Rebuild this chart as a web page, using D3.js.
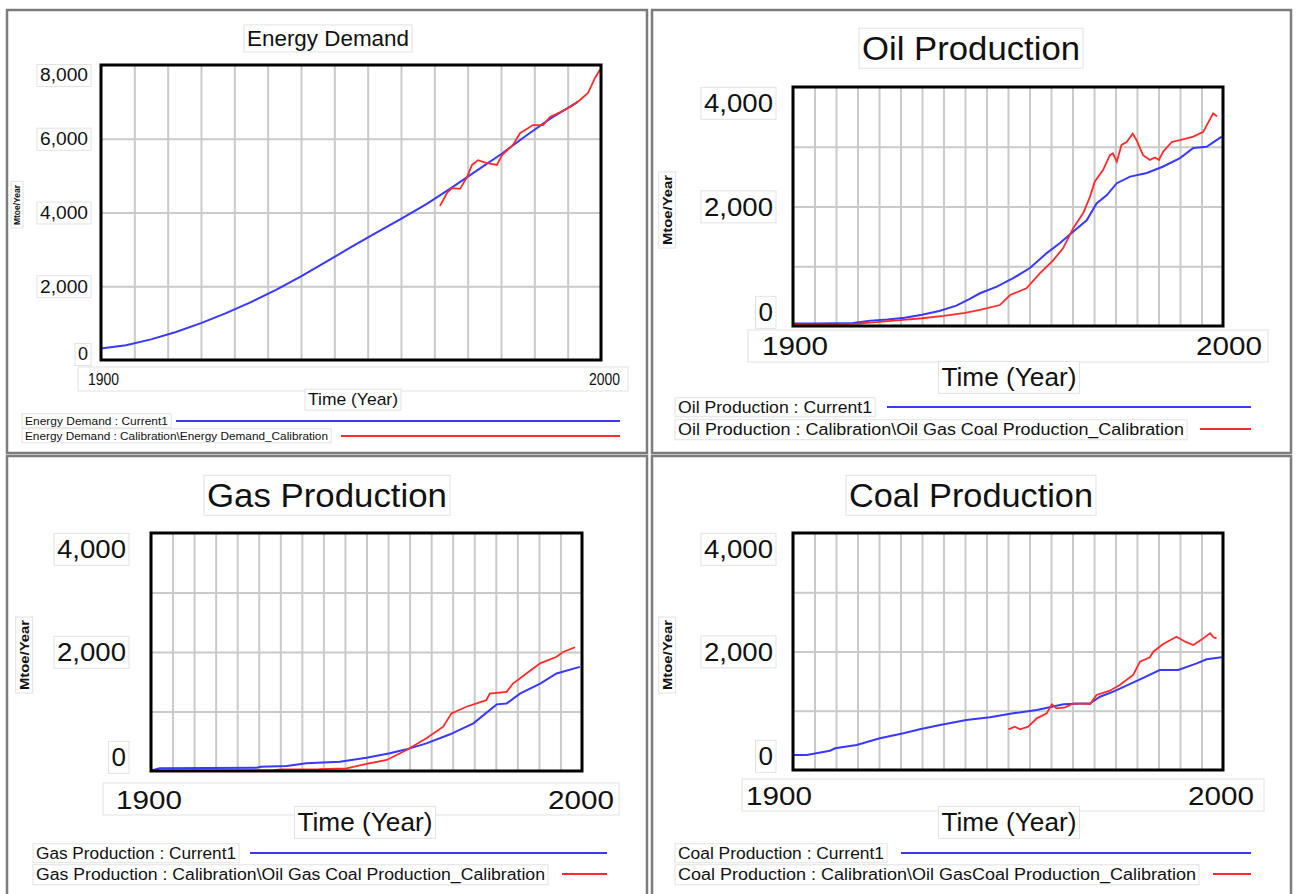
<!DOCTYPE html>
<html><head><meta charset="utf-8">
<script src="https://cdn.jsdelivr.net/npm/d3@7"></script>
<style>
body{margin:0;background:#fff}
svg{display:block}
text{font-family:"Liberation Sans",Arial,sans-serif;fill:#111}
</style>
</head><body><svg id="c" width="1296" height="894"></svg>
<script>
// ---------------- DATA ----------------
const yearDomain = [1900, 2000];
const xTickLabels = ["1900", "2000"];
const energyTicks = [0, 2000, 4000, 6000, 8000];
const prodTicks = [0, 1000, 2000, 3000, 4000];
const prodTickLabels = ["0", "", "2,000", "", "4,000"];
const energyTickLabels = ["0", "2,000", "4,000", "6,000", "8,000"];

const energyCurrent = [[1900,310],[1905,400],[1910,560],[1915,760],[1920,1000],[1925,1270],[1930,1570],[1935,1900],[1940,2270],[1945,2660],[1950,3060],[1955,3450],[1960,3830],[1965,4220],[1970,4660],[1975,5120],[1980,5580],[1985,6080],[1990,6560],[1995.4,7000]];
const energyCalib = [[1967.8,4180],[1969.2,4530],[1970.2,4660],[1971.8,4640],[1973.2,4960],[1974.2,5290],[1975.4,5420],[1977.2,5340],[1979.2,5290],[1980.2,5560],[1982.4,5830],[1983.8,6150],[1986.4,6370],[1988.4,6370],[1989.8,6590],[1991.8,6720],[1993.8,6860],[1995.8,7050],[1997.4,7240],[1998.8,7650],[1999.8,7870]];

const oilCurrent = [[1900,40],[1905,42],[1910,45],[1914,50],[1918,90],[1922,110],[1926,140],[1930,190],[1934,250],[1938,340],[1941,450],[1943.5,548],[1947.4,658],[1951.2,800],[1955.1,970],[1959,1220],[1962.1,1390],[1965.2,1580],[1968.3,1770],[1970.6,2050],[1973,2190],[1975.3,2390],[1978.4,2500],[1982.3,2560],[1986.1,2670],[1990,2810],[1993.1,2980],[1996.2,3000],[1999.7,3170]];
const oilCalib = [[1900,20],[1910,25],[1915,40],[1920,70],[1925,100],[1930,130],[1935,170],[1940,220],[1943.5,268],[1948.1,351],[1950.5,519],[1954.3,630],[1957.4,880],[1960.5,1100],[1962.8,1300],[1965.2,1640],[1967.5,1890],[1969.1,2170],[1970.2,2420],[1972.1,2610],[1973.7,2860],[1974.4,2890],[1975.3,2750],[1976.4,3030],[1977.6,3080],[1979,3220],[1979.9,3110],[1981.4,2860],[1983,2780],[1984.2,2820],[1985.1,2780],[1986.1,2920],[1988.1,3080],[1990,3110],[1993.1,3170],[1995.4,3250],[1997.7,3560],[1998.6,3510]];

const gasCurrent = [[1900,5],[1902,45],[1924.5,55],[1925.5,70],[1931.5,84],[1936,129],[1943.8,157],[1950,224],[1955.4,297],[1959.3,364],[1963.9,465],[1969.4,617],[1974.8,801],[1980.2,1120],[1982.5,1135],[1985.6,1300],[1990.3,1470],[1994.1,1640],[1999.5,1750]];
const gasCalib = [[1900,5],[1928,10],[1930,25],[1939,30],[1945.4,45],[1950,118],[1954.7,185],[1959.3,353],[1963.9,549],[1967.8,745],[1969.7,969],[1973.2,1080],[1977.8,1190],[1978.6,1300],[1982.5,1330],[1984,1470],[1987.1,1640],[1990.3,1810],[1994.1,1920],[1995.6,2000],[1998.4,2080]];

const coalCurrent = [[1900,253],[1903.2,253],[1908.6,326],[1909.8,366],[1914.8,422],[1920.2,535],[1925.7,619],[1929.5,687],[1934.2,759],[1940.3,844],[1945.8,889],[1951.2,957],[1956.7,1013],[1962.9,1109],[1969.1,1125],[1971.4,1237],[1974.5,1322],[1980.7,1530],[1985.3,1688],[1989.6,1688],[1993.9,1800],[1996.2,1868],[1999.7,1902]];
const coalCalib = [[1950.1,687],[1951.6,731],[1952.8,687],[1954.7,731],[1956.7,872],[1959,957],[1960.2,1109],[1961.3,1041],[1963.3,1058],[1965.2,1125],[1969.1,1114],[1970.6,1266],[1973.7,1339],[1976,1435],[1979.1,1603],[1980.7,1828],[1983,1902],[1983.8,1997],[1986.1,2127],[1989.2,2250],[1991.2,2166],[1993.1,2110],[1995.1,2205],[1997,2307],[1997.8,2240],[1998.5,2222]];

const titles = ["Energy Demand", "Oil Production", "Gas Production", "Coal Production"];
const legendCurrent = ["Energy Demand : Current1", "Oil Production : Current1", "Gas Production : Current1", "Coal Production : Current1"];
const legendCalib = ["Energy Demand : Calibration\\Energy Demand_Calibration", "Oil Production : Calibration\\Oil Gas Coal Production_Calibration", "Gas Production : Calibration\\Oil Gas Coal Production_Calibration", "Coal Production : Calibration\\Oil GasCoal Production_Calibration"];
const unitLabel = "Mtoe/Year";
const timeLabel = "Time (Year)";

// ---------------- LAYOUT ----------------
const BLUE = "#3838ff", RED = "#ff2a2a";
const layouts = [
  {frame:[7,10,640,443], plot:{l:101,r:601,t:65,b:360}, yMax:8000, ticks:energyTicks, tickLabels:energyTickLabels, nx:15,
   series:[energyCurrent, energyCalib],
   title:{cx:328,cy:38,fs:22,w:162}, tick:{right:88,fs:18,padT:10,padB:6,w5:48},
   xl:{cy:379,fs:16,l:88,r:620,w:31,box:[78,367,550,24]}, tl:{cx:353,cy:399,fs:17,w:90},
   unit:{x:17,cy:205,fs:8.5,w:40}, leg:{x:25,y1:421,y2:436,fs:10.5,w1:143,w2:303,b:[176,620],r:[341,620]}},
  {frame:[652,10,639,443], plot:{l:793,r:1223,t:87,b:326}, yMax:4000, ticks:prodTicks, tickLabels:prodTickLabels, nx:20,
   series:[oilCurrent, oilCalib],
   title:{cx:971,cy:48,fs:34,w:218}, tick:{right:773,fs:26,padT:16,padB:14,w5:69},
   xl:{cy:346,fs:26,l:762,r:1262,w:66,box:[748,330,520,32]}, tl:{cx:1009,cy:377,fs:26,w:135},
   unit:{x:667,cy:210,fs:13,w:70}, leg:{x:678,y1:407,y2:429,fs:16,w1:194,w2:506,b:[887,1251],r:[1200,1251]}},
  {frame:[7,456,640,450], plot:{l:151,r:582,t:533,b:771}, yMax:4000, ticks:prodTicks, tickLabels:prodTickLabels, nx:20,
   series:[gasCurrent, gasCalib],
   title:{cx:327,cy:495,fs:34,w:240}, tick:{right:126,fs:26,padT:16,padB:14,w5:69},
   xl:{cy:800,fs:26,l:116,r:614,w:66,box:[103,783,516,32]}, tl:{cx:365,cy:822,fs:26,w:135},
   unit:{x:24,cy:655,fs:13,w:70}, leg:{x:36,y1:853,y2:874,fs:16,w1:200,w2:509,b:[250,607],r:[562,607]}},
  {frame:[652,456,639,450], plot:{l:793,r:1223,t:533,b:770}, yMax:4000, ticks:prodTicks, tickLabels:prodTickLabels, nx:20,
   series:[coalCurrent, coalCalib],
   title:{cx:971,cy:495,fs:34,w:244}, tick:{right:773,fs:26,padT:16,padB:14,w5:69},
   xl:{cy:796,fs:26,l:746,r:1254,w:66,box:[742,779,522,32]}, tl:{cx:1009,cy:822,fs:26,w:135},
   unit:{x:667,cy:655,fs:13,w:70}, leg:{x:678,y1:853,y2:874,fs:16,w1:206,w2:518,b:[901,1251],r:[1213,1251]}}
];

const svg = d3.select("#c");

function label(g, s, x, cy, fs, opts={}) {
  const t = g.append("text").text(s)
    .attr("x", x).attr("y", cy + fs*0.36)
    .attr("font-size", fs)
    .attr("text-anchor", opts.anchor || "start");
  if (opts.w) t.attr("textLength", opts.w).attr("lengthAdjust", "spacingAndGlyphs");
  if (opts.bold) t.attr("font-weight", "bold");
  if (opts.box) {
    const bb = t.node().getBBox();
    g.insert("rect", () => t.node())
      .attr("x", bb.x - 3).attr("y", bb.y - 1).attr("width", bb.width + 6).attr("height", bb.height + 2)
      .attr("fill", "#fff").attr("stroke", "#e2e2e2").attr("stroke-width", 1);
  }
  return t;
}

layouts.forEach((L, i) => {
  const g = svg.append("g");
  const [fx, fy, fw, fh] = L.frame;
  g.append("rect").attr("x", fx).attr("y", fy).attr("width", fw).attr("height", fh)
    .attr("fill", "#fff").attr("stroke", "#7c7c7c").attr("stroke-width", 2.5);

  const P = L.plot;
  const x = d3.scaleLinear().domain(yearDomain).range([P.l, P.r]);
  const y = d3.scaleLinear().domain([0, L.yMax]).range([P.b, P.t]);

  label(g, titles[i], L.title.cx, L.title.cy, L.title.fs, {anchor:"middle", w:L.title.w, box:true});

  const step = (yearDomain[1] - yearDomain[0]) / L.nx;
  const gx = g.append("g").attr("transform", `translate(0,${P.b})`)
    .call(d3.axisBottom(x).tickValues(d3.range(1, L.nx).map(k => yearDomain[0] + k*step)).tickSize(-(P.b - P.t)).tickFormat(""));
  const gy = g.append("g").attr("transform", `translate(${P.l},0)`)
    .call(d3.axisLeft(y).tickValues(L.ticks.slice(1, -1)).tickSize(-(P.r - P.l)).tickFormat(""));
  [gx, gy].forEach(a => {
    a.select(".domain").remove();
    a.selectAll("line").attr("stroke", "#cacaca").attr("stroke-width", 2);
  });

  const line = d3.line().x(d => x(d[0])).y(d => y(d[1]));
  g.append("path").datum(L.series[0]).attr("d", line).attr("fill", "none").attr("stroke", BLUE).attr("stroke-width", 2);
  g.append("path").datum(L.series[1]).attr("d", line).attr("fill", "none").attr("stroke", RED).attr("stroke-width", 1.8);

  g.append("rect").attr("x", P.l).attr("y", P.t).attr("width", P.r - P.l).attr("height", P.b - P.t)
    .attr("fill", "none").attr("stroke", "#000").attr("stroke-width", 3);

  L.ticks.forEach((v, k) => {
    const s = L.tickLabels[k];
    if (!s) return;
    const cy = Math.max(P.t + L.tick.padT, Math.min(P.b - L.tick.padB, y(v)));
    label(g, s, L.tick.right, cy, L.tick.fs, {anchor:"end", w: s.length > 1 ? L.tick.w5 : null, box:true});
  });

  const b = L.xl.box;
  g.append("rect").attr("x", b[0]).attr("y", b[1]).attr("width", b[2]).attr("height", b[3])
    .attr("fill", "#fff").attr("stroke", "#e2e2e2");
  label(g, xTickLabels[0], L.xl.l, L.xl.cy, L.xl.fs, {w:L.xl.w});
  label(g, xTickLabels[1], L.xl.r, L.xl.cy, L.xl.fs, {anchor:"end", w:L.xl.w});

  label(g, timeLabel, L.tl.cx, L.tl.cy, L.tl.fs, {anchor:"middle", w:L.tl.w, box:true});

  const ug = g.append("g").attr("transform", `translate(${L.unit.x},${L.unit.cy}) rotate(-90)`);
  label(ug, unitLabel, 0, 0, L.unit.fs, {anchor:"middle", w:L.unit.w, bold:true, box:true});

  const lg = L.leg;
  label(g, legendCurrent[i], lg.x, lg.y1, lg.fs, {w:lg.w1, box:true});
  label(g, legendCalib[i], lg.x, lg.y2, lg.fs, {w:lg.w2, box:true});
  g.append("line").attr("x1", lg.b[0]).attr("x2", lg.b[1]).attr("y1", lg.y1).attr("y2", lg.y1).attr("stroke", BLUE).attr("stroke-width", 2);
  g.append("line").attr("x1", lg.r[0]).attr("x2", lg.r[1]).attr("y1", lg.y2).attr("y2", lg.y2).attr("stroke", RED).attr("stroke-width", 2);
});
</script>
</body></html>
